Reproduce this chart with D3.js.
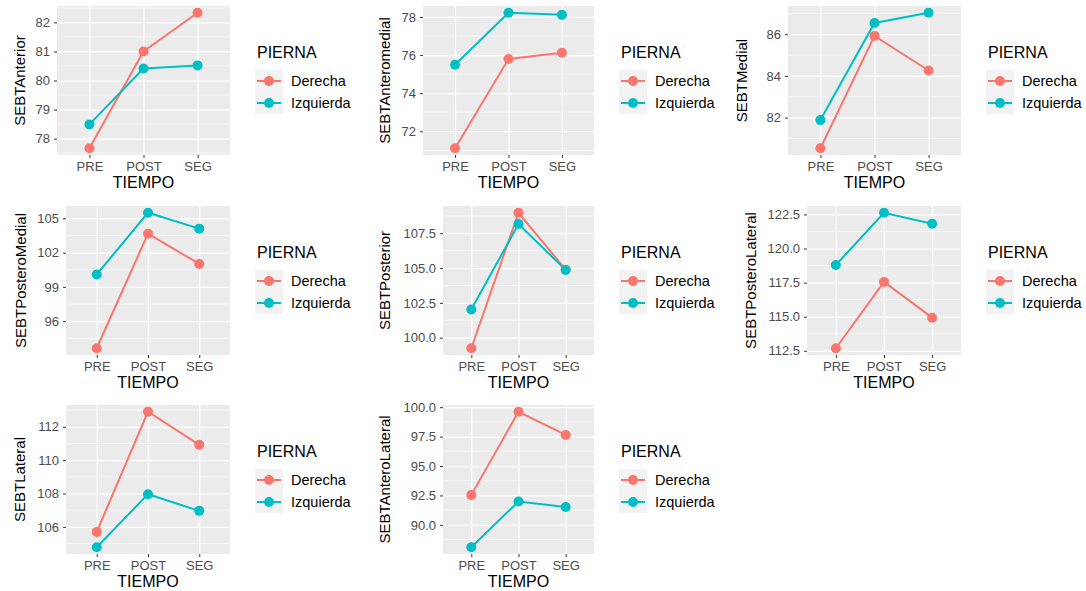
<!DOCTYPE html>
<html>
<head>
<meta charset="utf-8">
<script src="https://cdn.jsdelivr.net/npm/d3@7"></script>
<style>
  body { margin: 0; background: #fff; }
  svg { display: block; font-family: "Liberation Sans", Arial, sans-serif; }
</style>
</head>
<body>
<div id="chart"></div>
<script>
const tiempo = ['PRE', 'POST', 'SEG'];
const pierna = ['Derecha', 'Izquierda'];
const variables = [
  'SEBTAnterior', 'SEBTAnteromedial', 'SEBTMedial',
  'SEBTPosteroMedial', 'SEBTPosterior', 'SEBTPosteroLateral',
  'SEBTLateral', 'SEBTAnteroLateral'
];
const derecha = [
  [77.67, 81.0, 82.33],
  [71.11, 75.79, 76.12],
  [80.53, 85.92, 84.26],
  [93.63, 103.66, 101.01],
  [99.24, 108.97, 104.88],
  [112.69, 117.55, 114.93],
  [105.70, 112.90, 110.92],
  [92.53, 99.61, 97.64]
];
const izquierda = [
  [78.49, 80.41, 80.52],
  [75.49, 78.22, 78.11],
  [81.88, 86.54, 87.03],
  [100.09, 105.49, 104.10],
  [102.02, 108.16, 104.86],
  [118.79, 122.62, 121.81],
  [104.78, 107.96, 106.96],
  [88.10, 91.99, 91.52]
];
const yTicks = [
  [78, 79, 80, 81, 82],
  [72, 74, 76, 78],
  [82, 84, 86],
  [96, 99, 102, 105],
  [100, 102.5, 105, 107.5],
  [112.5, 115, 117.5, 120, 122.5],
  [106, 108, 110, 112],
  [90, 92.5, 95, 97.5, 100]
];
const tickDecimals = [0, 0, 0, 0, 1, 1, 0, 1];

const colors = d3.scaleOrdinal().domain(pierna).range(['#F8766D', '#00BFC4']);

// layout of the 3x3 grid (panel left edge depends on tick label width)
const colRight = [230, 594, 961];
const rowTop = [6, 206, 405];
const panelH = 149;
const panelLeft = [57, 423, 788, 66, 443, 807, 66, 443];
const titleX = [20, 385, 742, 21, 385, 751, 20, 385];

const svg = d3.select('#chart').append('svg')
  .attr('width', 1086)
  .attr('height', 591);

variables.forEach((name, i) => {
  const col = i % 3, row = Math.floor(i / 3);
  const left = panelLeft[i], right = colRight[col];
  const top = rowTop[row], bottom = top + panelH;

  const series = [
    { key: 'Derecha', values: derecha[i] },
    { key: 'Izquierda', values: izquierda[i] }
  ];
  const all = derecha[i].concat(izquierda[i]);
  const lo = d3.min(all), hi = d3.max(all), pad = (hi - lo) * 0.05;

  const x = d3.scalePoint().domain(tiempo).range([left, right]).padding(0.6);
  const y = d3.scaleLinear().domain([lo - pad, hi + pad]).range([bottom, top]);

  const g = svg.append('g');

  // panel background
  g.append('rect')
    .attr('x', left).attr('y', top)
    .attr('width', right - left).attr('height', panelH)
    .attr('fill', '#EBEBEB');

  // minor grid
  const ticks = yTicks[i];
  const step = ticks[1] - ticks[0];
  const minor = [ticks[0] - step / 2].concat(ticks.map(t => t + step / 2))
    .filter(v => v > y.domain()[0] && v < y.domain()[1]);
  g.selectAll('.minor')
    .data(minor)
    .enter()
    .append('line')
    .attr('x1', left).attr('x2', right)
    .attr('y1', d => y(d)).attr('y2', d => y(d))
    .attr('stroke', '#fff')
    .attr('stroke-width', 0.6);

  // major grid
  g.append('g')
    .attr('transform', `translate(${left},0)`)
    .call(d3.axisLeft(y).tickValues(ticks).tickSize(-(right - left)).tickFormat(''))
    .call(a => a.select('.domain').remove())
    .selectAll('line')
    .attr('stroke', '#fff')
    .attr('stroke-width', 1.2);

  g.append('g')
    .attr('transform', `translate(0,${bottom})`)
    .call(d3.axisBottom(x).tickSize(-panelH).tickFormat(''))
    .call(a => a.select('.domain').remove())
    .selectAll('line')
    .attr('stroke', '#fff')
    .attr('stroke-width', 1.2);

  // Y axis
  const yAxis = g.append('g')
    .attr('transform', `translate(${left},0)`)
    .call(d3.axisLeft(y).tickValues(ticks).tickSize(3).tickPadding(4)
      .tickFormat(d3.format(`.${tickDecimals[i]}f`)));
  yAxis.select('.domain').remove();
  yAxis.selectAll('line').attr('stroke', '#333');
  yAxis.selectAll('text')
    .style('fill', '#4D4D4D')
    .style('font-size', '13px');

  // X axis
  const xAxis = g.append('g')
    .attr('transform', `translate(0,${bottom})`)
    .call(d3.axisBottom(x).tickSize(3).tickPadding(4));
  xAxis.select('.domain').remove();
  xAxis.selectAll('line').attr('stroke', '#333');
  xAxis.selectAll('text')
    .style('fill', '#4D4D4D')
    .style('font-size', '13px');

  // axis titles
  g.append('text')
    .attr('x', (left + right) / 2)
    .attr('y', bottom + 33)
    .attr('text-anchor', 'middle')
    .style('font-size', '16px')
    .text('TIEMPO');

  g.append('text')
    .attr('transform', `translate(${titleX[i] + 5},${(top + bottom) / 2}) rotate(-90)`)
    .attr('text-anchor', 'middle')
    .style('font-size', '15px')
    .text(name);

  // lines and points
  const line = d3.line()
    .x((d, k) => x(tiempo[k]))
    .y(d => y(d));

  g.selectAll('.series-line')
    .data(series)
    .enter()
    .append('path')
    .attr('d', d => line(d.values))
    .attr('fill', 'none')
    .attr('stroke', d => colors(d.key))
    .attr('stroke-width', 2);

  series.forEach(s => {
    g.selectAll(null)
      .data(s.values)
      .enter()
      .append('circle')
      .attr('cx', (d, k) => x(tiempo[k]))
      .attr('cy', d => y(d))
      .attr('r', 5)
      .attr('fill', colors(s.key));
  });

  // legend
  const lx = right + 25;
  const ly = top + 52;
  const legend = g.append('g').attr('transform', `translate(${lx},${ly})`);
  legend.append('text')
    .attr('x', 2).attr('y', 0)
    .style('font-size', '16px')
    .text('PIERNA');
  pierna.forEach((p, k) => {
    const ky = 12 + k * 22;
    legend.append('rect')
      .attr('x', 0).attr('y', ky)
      .attr('width', 28).attr('height', 22)
      .attr('fill', '#F2F2F2');
    legend.append('line')
      .attr('x1', 2).attr('x2', 26)
      .attr('y1', ky + 11).attr('y2', ky + 11)
      .attr('stroke', colors(p))
      .attr('stroke-width', 2);
    legend.append('circle')
      .attr('cx', 14).attr('cy', ky + 11)
      .attr('r', 5)
      .attr('fill', colors(p));
    legend.append('text')
      .attr('x', 36).attr('y', ky + 11)
      .attr('dy', '0.35em')
      .style('font-size', '14.5px')
      .text(p);
  });
});
</script>
</body>
</html>
